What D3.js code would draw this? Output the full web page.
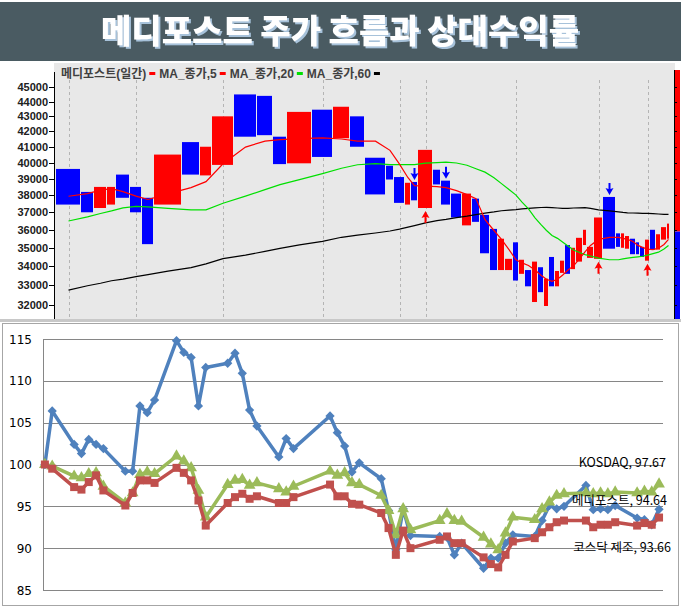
<!DOCTYPE html>
<html><head><meta charset="utf-8">
<script src="https://cdn.jsdelivr.net/npm/d3@7"></script>
<style>
html,body{margin:0;padding:0;background:#fff;}
svg{display:block;}
</style></head><body>
<svg id="c" width="681" height="607"></svg>
<script>
const title = "메디포스트 주가 흐름과 상대수익률";

// ---- Top panel: equivolume daily boxes (relative volume, high, low, up/down) ----
const volumes = [25,13,13,9,14,12,12,28,18,12, 22,23,16,14,25,21,17,15,21,8, 11,6,7,15,8,10,11,10,8,10, 8,7,8,6,6,7,6,6,5,6, 5,5,6,5,7,4,7,9,13,5, 4,5,6,4,5,5,6,5,6,3];
const highs = [39600,38200,38500,38500,39250,38500,37850,40500,41300,41000, 43000,44500,44400,41650,43300,43450,43650,43000,40300,39800, 39100,38750,38800,40800,39550,38880,38100,38100,37800,36850, 36050,35500,34400,35300,34350,33800,34250,33950,33350,34500, 33750,34300,35150,35000,35550,36000,35050,36700,37900,35800, 35800,35650,35500,35300,35050,35450,36000,35750,36150,36350];
const lows = [37450,37000,37250,37450,37850,37000,35200,37450,39250,39200, 39850,41650,41750,39900,39950,40350,41550,41000,38050,38950, 37550,37450,37700,37250,38650,37450,36700,36250,36450,34700, 33800,33800,33800,33250,33600,32950,32150,32650,31950,32950, 32950,33650,33600,33850,34250,35150,34450,34400,34950,35050, 35000,34950,34650,34650,34500,34300,34900,34900,35450,35500];
const rising = [0,0,1,1,0,0,0,1,0,1, 1,0,0,0,1,0,1,0,0,0, 0,1,0,1,0,0,0,1,0,0, 0,1,1,0,1,0,1,0,1,0, 1,1,0,1,1,1,1,1,0,0, 1,1,0,0,0,1,0,1,1,1];
const ma5 = [37940,38100,38310,38400,38220,37950,37750,38080,38460,38820, 39920,40980,41360,41460,41530,41570,41500,41360,41360,40770, 39900,39060,38580,38550,38520,38460,38280,38040,37800,36570, 35960,35460,34900,34350,34180,34040,33800,33530,33320,33210, 33320,33530,33800,34020,34400,34780,35130,35460,35570,35570, 35520,35460,35350,35130,35020,34930,34900,34980,35180,35460];
const ma20 = [36500,36740,36930,37080,37260,37340,37320,37230,37140,37140, 37530,37950,38340,38640,38940,39310,39640,39860,39930,39870, 39870,39870,39870,39960,39990,40020,39970,39830,39610,39400, 39060,38700,38340,38010,37590,37200,36680,36290,35960,35680, 35520,35320,35100,34880,34740,34630,34550,34440,34350,34350, 34400,34440,34480,34510,34540,34600,34680,34760,34930,35130];
const ma60 = [32750,32980,33110,33240,33320,33450,33560,33740,33930,34130, 34410,34600,34800,34970,35160,35350,35580,35700,35820,35930, 36040,36150,36240,36390,36520,36590,36690,36780,36870,36950, 37020,37090,37130,37160,37200,37230,37260,37280,37290,37270, 37250,37230,37230,37250,37260,37270,37230,37140,37080,37020, 36990,36970,36960,36950,36940,36940,36920,36900,36880,36880];
const priceTicks = [32000,33000,34000,35000,36000,37000,38000,39000,40000,41000,42000,43000,44000,45000];
const buySignals = [23,47,55];
const sellSignals = [22,25,48];
const gridDays = [0,5,10,15,20,23,33,47,55];
const legendLabels = ["메디포스트(일간)","MA_종가,5","MA_종가,20","MA_종가,60"];
const legendColors = ["#ff0000","#ff0000","#00e000","#000000"];
const pressureSplit = 35900;

// ---- Bottom panel: relative return (start = 100) ----
const dayOffsets = [0,1,4,5,6,7,8,11,12,13,14,15,18,19,20,21,22,25,26,27,28,29,32,33,34,39,40,41,42,43,46,47,48,49,50,54,55,56,57,60,61,62,63,64,67,68,69,70,71,74,75,76,77,78,81,82,83,84];
const medipost = [100,106.4,102.4,101.3,103.0,102.4,101.9,99.2,99.2,107.0,106.2,107.7,114.8,113.4,112.8,107.0,111.6,112.1,113.3,110.9,106.5,104.6,100.9,103.1,101.9,105.8,103.8,102.2,99.1,100.2,98.3,94.5,89.8,94.7,91.5,91.4,91.3,89.2,90.6,87.6,88.8,88.8,90.6,91.6,91.4,93.3,95.1,94.7,95.0,97.5,94.6,94.7,94.6,95.1,93.6,93.4,92.8,94.64];
const kosdaqMfg = [100,99.5,97.3,97.0,97.9,98.7,96.9,95.1,96.6,98.1,98.1,97.8,99.6,99.0,98.1,95.7,92.7,95.4,96.1,96.5,95.9,96.2,95.4,95.4,96.1,97.6,96.2,96.2,95.3,95.2,94.2,92.4,89.2,92.1,90.0,91.0,91.4,90.6,90.6,88.9,88.1,87.7,89.2,90.8,91.2,91.9,92.5,93.1,93.3,93.3,92.5,92.8,92.8,93.1,92.7,93.0,92.8,93.66];
const kosdaq = [100,99.8,98.6,98.4,98.9,99.0,97.4,95.4,96.6,98.8,99.1,98.9,101.0,100.4,99.6,96.9,93.7,97.6,98.1,98.2,97.5,97.8,97.1,96.7,97.4,99.2,98.7,99.0,97.8,97.6,96.3,94.5,91.6,94.7,92.2,93.3,94.1,93.3,93.2,91.3,90.5,89.8,91.8,93.7,93.4,94.7,95.5,96.3,96.5,96.6,96.5,96.6,96.5,96.7,96.6,96.8,96.7,97.67];
const returnTicks = [85,90,95,100,105,110,115];
const seriesNames = ["메디포스트","코스닥 제조","KOSDAQ"];

const svg = d3.select("#c");

// ---------------- Title banner ----------------
const defs = svg.append("defs");
const f = defs.append("filter").attr("id","ts").attr("x","-5%").attr("y","-20%").attr("width","110%").attr("height","150%");
f.append("feOffset").attr("in","SourceAlpha").attr("dx",2).attr("dy",2).attr("result","o");
f.append("feFlood").attr("flood-color","#a7c2da").attr("result","c");
f.append("feComposite").attr("in","c").attr("in2","o").attr("operator","in").attr("result","s");
const fm = f.append("feMerge");
fm.append("feMergeNode").attr("in","s");
fm.append("feMergeNode").attr("in","SourceGraphic");

svg.append("rect").attr("x",0).attr("y",2).attr("width",681).attr("height",59).attr("fill","#4a5b62");
const tfont = "'Noto Sans CJK KR', sans-serif";
svg.append("text").attr("x",340).attr("y",43).attr("text-anchor","middle")
  .attr("font-family",tfont).attr("font-weight",900).attr("font-size",33)
  .attr("fill","#ffffff").attr("filter","url(#ts)").text(title);

// ---------------- Top panel ----------------
const topG = svg.append("g");
const plotL = 54, plotR = 675, plotT = 63, plotB = 319;
topG.append("rect").attr("x",plotL).attr("y",plotT).attr("width",plotR-plotL).attr("height",plotB-plotT).attr("fill","#e8e8e8");

const yP = d3.scaleLog().domain([32000,45000]).range([305,87.3]);
const cum = []; let acc = 0;
volumes.forEach(v=>{cum.push(acc); acc+=v;});
const xV = d3.scaleLinear().domain([0,acc]).range([56,670]);
const cx = i => xV(cum[i] + volumes[i]/2);

topG.selectAll("line.vg").data(gridDays).join("line")
  .attr("x1",d=>Math.round(cx(d))+0.5).attr("x2",d=>Math.round(cx(d))+0.5)
  .attr("y1",80).attr("y2",plotB).attr("stroke","#b4b4b4").attr("stroke-dasharray","3,3");

topG.selectAll("rect.box").data(volumes).join("rect")
  .attr("x",(d,i)=>Math.round(xV(cum[i])))
  .attr("width",(d,i)=>Math.max(2, Math.round(xV(cum[i]+d)) - Math.round(xV(cum[i])) - 1))
  .attr("y",(d,i)=>yP(highs[i]))
  .attr("height",(d,i)=>yP(lows[i]) - yP(highs[i]))
  .attr("fill",(d,i)=>rising[i] ? "#ff0000" : "#0000ff");

const maLine = arr => d3.line().x((d,i)=>cx(i)).y(d=>yP(d))(arr);
[[ma60,"#000000"],[ma20,"#00e000"],[ma5,"#ff0000"]].forEach(([arr,c])=>{
  topG.append("path").attr("d",maLine(arr)).attr("fill","none").attr("stroke",c).attr("stroke-width",1.2);
});

const downArrow = "M-1,0 L1,0 L1,6 L4,5 L0,12 L-4,5 L-1,6 Z";
const upArrow = "M-1,12 L1,12 L1,6 L4,7 L0,0 L-4,7 L-1,6 Z";
sellSignals.forEach(i=>{
  topG.append("path").attr("d",downArrow).attr("fill","#0000ff")
    .attr("transform",`translate(${cx(i)},${yP(highs[i])-14})`);
});
buySignals.forEach(i=>{
  topG.append("path").attr("d",upArrow).attr("fill","#ff0000")
    .attr("transform",`translate(${cx(i)},${yP(lows[i])+3})`);
});

topG.append("line").attr("x1",plotL+0.5).attr("x2",plotL+0.5).attr("y1",72).attr("y2",plotB).attr("stroke","#000");
topG.selectAll("line.tk").data(priceTicks).join("line")
  .attr("x1",49).attr("x2",54).attr("y1",d=>Math.round(yP(d))+0.5).attr("y2",d=>Math.round(yP(d))+0.5).attr("stroke","#000");
topG.selectAll("text.tl").data(priceTicks).join("text")
  .attr("x",48).attr("y",d=>yP(d)+4).attr("text-anchor","end")
  .attr("font-family","'Liberation Sans', Arial, sans-serif").attr("font-weight","bold").attr("font-size",11)
  .attr("fill","#202020").text(d=>d);

topG.append("rect").attr("x",675).attr("y",70).attr("width",5).attr("height",yP(pressureSplit)-70).attr("fill","#ff0000");
topG.append("rect").attr("x",675).attr("y",yP(pressureSplit)).attr("width",5).attr("height",plotB-yP(pressureSplit)).attr("fill","#0000ff");
topG.append("line").attr("x1",674.5).attr("x2",674.5).attr("y1",70).attr("y2",plotB).attr("stroke","#000");
topG.selectAll("line.rt").data(priceTicks).join("line")
  .attr("x1",675).attr("x2",677).attr("y1",d=>Math.round(yP(d))+0.5).attr("y2",d=>Math.round(yP(d))+0.5).attr("stroke","#000");

let lx = 61;
legendLabels.forEach((lab,i)=>{
  const t = topG.append("text").attr("x",lx).attr("y",77.5)
    .attr("font-family","'Liberation Sans', 'Noto Sans CJK KR', sans-serif").attr("font-weight","bold")
    .attr("font-size",12).attr("fill","#404040").text(lab);
  lx += t.node().getComputedTextLength() + 3;
  topG.append("rect").attr("x",lx).attr("y",72).attr("width",6).attr("height",3).attr("fill",legendColors[i]);
  lx += 6 + 4;
});

svg.append("rect").attr("x",0).attr("y",319).attr("width",681).attr("height",3).attr("fill","#c8c8c8");

// ---------------- Bottom panel ----------------
const bot = svg.append("g");
bot.append("rect").attr("x",2.5).attr("y",323.5).attr("width",676).attr("height",282).attr("fill","#fff").attr("stroke","#a6a6a6");
const xD = d3.scaleLinear().domain([-0.3,84.5]).range([42.7,662.7]);
const yR = d3.scaleLinear().domain([85,115]).range([590,339]);

bot.selectAll("line.hg").data(returnTicks).join("line")
  .attr("x1",43).attr("x2",663).attr("y1",d=>Math.round(yR(d))+0.5).attr("y2",d=>Math.round(yR(d))+0.5)
  .attr("stroke","#868686").attr("stroke-width",1);
bot.append("line").attr("x1",43.5).attr("x2",43.5).attr("y1",yR(115)).attr("y2",yR(85)).attr("stroke","#868686");
bot.selectAll("text.rl").data(returnTicks).join("text")
  .attr("x",32).attr("y",d=>yR(d)+4.5).attr("text-anchor","end")
  .attr("font-family","'DejaVu Sans', Verdana, sans-serif").attr("font-size",12).attr("fill","#000").text(d=>d);

const line = d3.line().x((d,i)=>xD(dayOffsets[i])).y(d=>yR(d));
function drawSeries(vals,color,shape,size){
  bot.append("path").attr("d",line(vals)).attr("fill","none").attr("stroke",color)
    .attr("stroke-width",3.5).attr("stroke-linejoin","round");
  bot.selectAll(null).data(vals).join("path")
    .attr("d",d3.symbol().type(shape).size(size))
    .attr("transform",(d,i)=>`translate(${xD(dayOffsets[i])},${yR(d)})`)
    .attr("fill",color);
}
drawSeries(medipost,"#4f81bd",d3.symbolDiamond2,55);
drawSeries(kosdaq,"#9bbb59",d3.symbolTriangle,60);
drawSeries(kosdaqMfg,"#c0504d",d3.symbolSquare,64);

const lfont = "'Noto Sans CJK KR', sans-serif";
const endLabels = [
  {name:seriesNames[2], v:kosdaq[kosdaq.length-1], x:666, y:467},
  {name:seriesNames[0], v:medipost[medipost.length-1], x:667, y:505},
  {name:seriesNames[1], v:kosdaqMfg[kosdaqMfg.length-1], x:671, y:552}
];
bot.selectAll("text.el").data(endLabels).join("text")
  .attr("x",d=>d.x).attr("y",d=>d.y).attr("text-anchor","end")
  .attr("font-family",lfont).attr("font-size",12.5).attr("fill","#000")
  .text(d=>`${d.name}, ${d.v.toFixed(2)}`);
</script>
</body></html>
